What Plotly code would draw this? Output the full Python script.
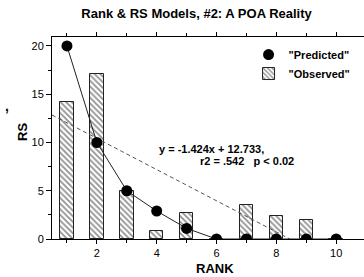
import plotly.graph_objects as go

rank = [1, 2, 3, 4, 5, 6, 7, 8, 9, 10]
observed = [14.2, 17.1, 5.0, 0.8, 2.7, 0.0, 3.5, 2.4, 2.0, 0.0]
predicted = [20.0, 10.0, 5.0, 2.9, 1.1, 0.0, 0.0, 0.0, 0.0, 0.0]
fit_x = [0.5, 8.45]
fit_y = [12.85, 0.0]

FONT = "Liberation Sans"

fig = go.Figure()
fig.add_trace(go.Bar(
    x=rank, y=observed, width=0.45, name='"Observed"',
    marker=dict(color="white", line=dict(color="#222", width=1),
                pattern=dict(shape="\\", fgcolor="#222", size=4, solidity=0.45)),
))
fig.add_trace(go.Scatter(
    x=fit_x, y=fit_y, mode="lines", showlegend=False,
    line=dict(color="#555", width=1, dash="4px,3px"),
))
fig.add_trace(go.Scatter(
    x=rank, y=predicted, mode="lines", showlegend=False,
    line=dict(color="#222", width=1),
))
fig.add_trace(go.Scatter(
    x=rank, y=predicted, mode="markers", name='"Predicted"',
    marker=dict(color="black", size=11),
))

fig.update_layout(
    width=364, height=277,
    margin=dict(l=52, r=0, t=37, b=38, autoexpand=False),
    plot_bgcolor="white", paper_bgcolor="white",
    font=dict(family=FONT, size=11, color="black"),
    title=dict(text="<b>Rank & RS Models, #2: A POA Reality</b>", x=0.54, xanchor="center",
               y=0.95, yanchor="middle", font=dict(size=13, family=FONT)),
    showlegend=True,
    legend=dict(x=0.63, y=0.985, xanchor="left", yanchor="top", traceorder="reversed",
                bgcolor="rgba(0,0,0,0)", font=dict(size=11, family=FONT, weight="bold"),
                itemwidth=30, tracegroupgap=4),
    bargap=0,
)
fig.update_xaxes(
    range=[0.5, 10.93], showgrid=False, zeroline=False, showline=True, linecolor="black", linewidth=1,
    mirror="ticks", ticks="outside", ticklen=4, tickcolor="black", dtick=2, tick0=0,
    minor=dict(dtick=1, ticks="outside", ticklen=3, tickcolor="black"),
    tickfont=dict(size=11), automargin=False,
)
fig.update_yaxes(
    range=[0, 20.93], showgrid=False, zeroline=False, showline=True, linecolor="black", linewidth=1,
    mirror=True, ticks="outside", ticklen=5, tickcolor="black", dtick=5,
    minor=dict(dtick=2.5, ticks="outside", ticklen=3, tickcolor="black"),
    tickfont=dict(size=11), automargin=False,
)
fig.add_annotation(xref="paper", yref="paper", x=-0.093, y=0.53, xanchor="center", yanchor="middle",
                   text="<b>RS</b>", textangle=-90, showarrow=False, font=dict(size=13))
fig.add_annotation(xref="paper", yref="paper", x=0.523, y=-0.144, xanchor="center", yanchor="middle",
                   text="<b>RANK</b>", showarrow=False, font=dict(size=13))
fig.add_annotation(xref="paper", yref="paper", x=0.337, y=0.447, xanchor="left", yanchor="middle",
                   text="<b>y = -1.424x + 12.733,</b>", showarrow=False, font=dict(size=11))
fig.add_annotation(xref="paper", yref="paper", x=0.469, y=0.384, xanchor="left", yanchor="middle",
                   text="<b>r2 = .542   p < 0.02</b>", showarrow=False, font=dict(size=11))
fig.add_annotation(xref="paper", yref="paper", x=-0.158, y=0.66, xanchor="left", yanchor="middle",
                   text="<b>,</b>", showarrow=False, font=dict(size=14))

fig.write_html("out.html", config={"displayModeBar": False},
               post_script="document.body.style.margin='0';document.body.style.overflow='hidden';")
